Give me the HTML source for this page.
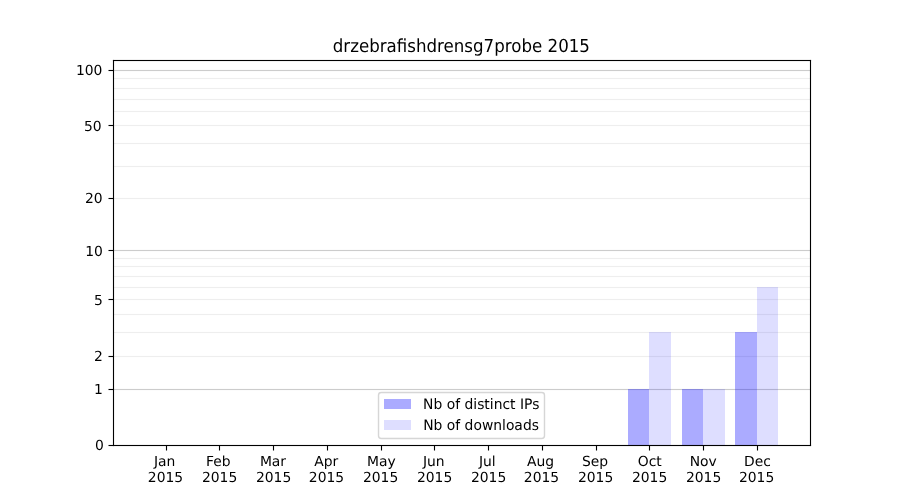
<!DOCTYPE html>
<html><head><meta charset="utf-8"><title>drzebrafishdrensg7probe 2015</title>
<style>html,body{margin:0;padding:0;background:#fff;}body{width:900px;height:500px;overflow:hidden;}svg{display:block;will-change:transform;}text{font-family:'DejaVu Sans', 'Liberation Sans', sans-serif;fill:#000;text-rendering:geometricPrecision;}</style>
</head><body>
<svg width="900" height="500" viewBox="0 0 900 500">
<rect x="0" y="0" width="900" height="500" fill="#ffffff"/>
<g shape-rendering="crispEdges">
<rect x="113" y="77" width="1" height="1" fill="#eeeeee" fill-opacity="0.056"/>
<rect x="113" y="78" width="1" height="1" fill="#eeeeee"/>
<rect x="113" y="79" width="1" height="1" fill="#eeeeee" fill-opacity="0.056"/>
<rect x="114" y="77" width="696" height="1" fill="#eeeeee" fill-opacity="0.056"/>
<rect x="114" y="78" width="696" height="1" fill="#eeeeee"/>
<rect x="114" y="79" width="696" height="1" fill="#eeeeee" fill-opacity="0.056"/>
<rect x="113" y="87" width="1" height="1" fill="#eeeeee" fill-opacity="0.056"/>
<rect x="113" y="88" width="1" height="1" fill="#eeeeee"/>
<rect x="113" y="89" width="1" height="1" fill="#eeeeee" fill-opacity="0.056"/>
<rect x="114" y="87" width="696" height="1" fill="#eeeeee" fill-opacity="0.056"/>
<rect x="114" y="88" width="696" height="1" fill="#eeeeee"/>
<rect x="114" y="89" width="696" height="1" fill="#eeeeee" fill-opacity="0.056"/>
<rect x="113" y="98" width="1" height="1" fill="#eeeeee" fill-opacity="0.056"/>
<rect x="113" y="99" width="1" height="1" fill="#eeeeee"/>
<rect x="113" y="100" width="1" height="1" fill="#eeeeee" fill-opacity="0.056"/>
<rect x="114" y="98" width="696" height="1" fill="#eeeeee" fill-opacity="0.056"/>
<rect x="114" y="99" width="696" height="1" fill="#eeeeee"/>
<rect x="114" y="100" width="696" height="1" fill="#eeeeee" fill-opacity="0.056"/>
<rect x="113" y="110" width="1" height="1" fill="#eeeeee" fill-opacity="0.056"/>
<rect x="113" y="111" width="1" height="1" fill="#eeeeee"/>
<rect x="113" y="112" width="1" height="1" fill="#eeeeee" fill-opacity="0.056"/>
<rect x="114" y="110" width="696" height="1" fill="#eeeeee" fill-opacity="0.056"/>
<rect x="114" y="111" width="696" height="1" fill="#eeeeee"/>
<rect x="114" y="112" width="696" height="1" fill="#eeeeee" fill-opacity="0.056"/>
<rect x="113" y="124" width="1" height="1" fill="#eeeeee" fill-opacity="0.056"/>
<rect x="113" y="125" width="1" height="1" fill="#eeeeee"/>
<rect x="113" y="126" width="1" height="1" fill="#eeeeee" fill-opacity="0.056"/>
<rect x="114" y="124" width="696" height="1" fill="#eeeeee" fill-opacity="0.056"/>
<rect x="114" y="125" width="696" height="1" fill="#eeeeee"/>
<rect x="114" y="126" width="696" height="1" fill="#eeeeee" fill-opacity="0.056"/>
<rect x="113" y="142" width="1" height="1" fill="#eeeeee" fill-opacity="0.056"/>
<rect x="113" y="143" width="1" height="1" fill="#eeeeee"/>
<rect x="113" y="144" width="1" height="1" fill="#eeeeee" fill-opacity="0.056"/>
<rect x="114" y="142" width="696" height="1" fill="#eeeeee" fill-opacity="0.056"/>
<rect x="114" y="143" width="696" height="1" fill="#eeeeee"/>
<rect x="114" y="144" width="696" height="1" fill="#eeeeee" fill-opacity="0.056"/>
<rect x="113" y="165" width="1" height="1" fill="#eeeeee" fill-opacity="0.056"/>
<rect x="113" y="166" width="1" height="1" fill="#eeeeee"/>
<rect x="113" y="167" width="1" height="1" fill="#eeeeee" fill-opacity="0.056"/>
<rect x="114" y="165" width="696" height="1" fill="#eeeeee" fill-opacity="0.056"/>
<rect x="114" y="166" width="696" height="1" fill="#eeeeee"/>
<rect x="114" y="167" width="696" height="1" fill="#eeeeee" fill-opacity="0.056"/>
<rect x="113" y="197" width="1" height="1" fill="#eeeeee" fill-opacity="0.056"/>
<rect x="113" y="198" width="1" height="1" fill="#eeeeee"/>
<rect x="113" y="199" width="1" height="1" fill="#eeeeee" fill-opacity="0.056"/>
<rect x="114" y="197" width="696" height="1" fill="#eeeeee" fill-opacity="0.056"/>
<rect x="114" y="198" width="696" height="1" fill="#eeeeee"/>
<rect x="114" y="199" width="696" height="1" fill="#eeeeee" fill-opacity="0.056"/>
<rect x="113" y="257" width="1" height="1" fill="#eeeeee" fill-opacity="0.056"/>
<rect x="113" y="258" width="1" height="1" fill="#eeeeee"/>
<rect x="113" y="259" width="1" height="1" fill="#eeeeee" fill-opacity="0.056"/>
<rect x="114" y="257" width="696" height="1" fill="#eeeeee" fill-opacity="0.056"/>
<rect x="114" y="258" width="696" height="1" fill="#eeeeee"/>
<rect x="114" y="259" width="696" height="1" fill="#eeeeee" fill-opacity="0.056"/>
<rect x="113" y="265" width="1" height="1" fill="#eeeeee" fill-opacity="0.056"/>
<rect x="113" y="266" width="1" height="1" fill="#eeeeee"/>
<rect x="113" y="267" width="1" height="1" fill="#eeeeee" fill-opacity="0.056"/>
<rect x="114" y="265" width="696" height="1" fill="#eeeeee" fill-opacity="0.056"/>
<rect x="114" y="266" width="696" height="1" fill="#eeeeee"/>
<rect x="114" y="267" width="696" height="1" fill="#eeeeee" fill-opacity="0.056"/>
<rect x="113" y="275" width="1" height="1" fill="#eeeeee" fill-opacity="0.056"/>
<rect x="113" y="276" width="1" height="1" fill="#eeeeee"/>
<rect x="113" y="277" width="1" height="1" fill="#eeeeee" fill-opacity="0.056"/>
<rect x="114" y="275" width="696" height="1" fill="#eeeeee" fill-opacity="0.056"/>
<rect x="114" y="276" width="696" height="1" fill="#eeeeee"/>
<rect x="114" y="277" width="696" height="1" fill="#eeeeee" fill-opacity="0.056"/>
<rect x="113" y="286" width="1" height="1" fill="#eeeeee" fill-opacity="0.056"/>
<rect x="113" y="287" width="1" height="1" fill="#eeeeee"/>
<rect x="113" y="288" width="1" height="1" fill="#eeeeee" fill-opacity="0.056"/>
<rect x="114" y="286" width="696" height="1" fill="#eeeeee" fill-opacity="0.056"/>
<rect x="114" y="287" width="696" height="1" fill="#eeeeee"/>
<rect x="114" y="288" width="696" height="1" fill="#eeeeee" fill-opacity="0.056"/>
<rect x="113" y="298" width="1" height="1" fill="#eeeeee" fill-opacity="0.056"/>
<rect x="113" y="299" width="1" height="1" fill="#eeeeee"/>
<rect x="113" y="300" width="1" height="1" fill="#eeeeee" fill-opacity="0.056"/>
<rect x="114" y="298" width="696" height="1" fill="#eeeeee" fill-opacity="0.056"/>
<rect x="114" y="299" width="696" height="1" fill="#eeeeee"/>
<rect x="114" y="300" width="696" height="1" fill="#eeeeee" fill-opacity="0.056"/>
<rect x="113" y="313" width="1" height="1" fill="#eeeeee" fill-opacity="0.056"/>
<rect x="113" y="314" width="1" height="1" fill="#eeeeee"/>
<rect x="113" y="315" width="1" height="1" fill="#eeeeee" fill-opacity="0.056"/>
<rect x="114" y="313" width="696" height="1" fill="#eeeeee" fill-opacity="0.056"/>
<rect x="114" y="314" width="696" height="1" fill="#eeeeee"/>
<rect x="114" y="315" width="696" height="1" fill="#eeeeee" fill-opacity="0.056"/>
<rect x="113" y="331" width="1" height="1" fill="#eeeeee" fill-opacity="0.056"/>
<rect x="113" y="332" width="1" height="1" fill="#eeeeee"/>
<rect x="113" y="333" width="1" height="1" fill="#eeeeee" fill-opacity="0.056"/>
<rect x="114" y="331" width="696" height="1" fill="#eeeeee" fill-opacity="0.056"/>
<rect x="114" y="332" width="696" height="1" fill="#eeeeee"/>
<rect x="114" y="333" width="696" height="1" fill="#eeeeee" fill-opacity="0.056"/>
<rect x="113" y="355" width="1" height="1" fill="#eeeeee" fill-opacity="0.056"/>
<rect x="113" y="356" width="1" height="1" fill="#eeeeee"/>
<rect x="113" y="357" width="1" height="1" fill="#eeeeee" fill-opacity="0.056"/>
<rect x="114" y="355" width="696" height="1" fill="#eeeeee" fill-opacity="0.056"/>
<rect x="114" y="356" width="696" height="1" fill="#eeeeee"/>
<rect x="114" y="357" width="696" height="1" fill="#eeeeee" fill-opacity="0.056"/>
<rect x="113" y="69" width="1" height="1" fill="#cccccc" fill-opacity="0.056"/>
<rect x="113" y="70" width="1" height="1" fill="#cccccc"/>
<rect x="113" y="71" width="1" height="1" fill="#cccccc" fill-opacity="0.056"/>
<rect x="114" y="69" width="696" height="1" fill="#cccccc" fill-opacity="0.056"/>
<rect x="114" y="70" width="696" height="1" fill="#cccccc"/>
<rect x="114" y="71" width="696" height="1" fill="#cccccc" fill-opacity="0.056"/>
<rect x="113" y="249" width="1" height="1" fill="#cccccc" fill-opacity="0.056"/>
<rect x="113" y="250" width="1" height="1" fill="#cccccc"/>
<rect x="113" y="251" width="1" height="1" fill="#cccccc" fill-opacity="0.056"/>
<rect x="114" y="249" width="696" height="1" fill="#cccccc" fill-opacity="0.056"/>
<rect x="114" y="250" width="696" height="1" fill="#cccccc"/>
<rect x="114" y="251" width="696" height="1" fill="#cccccc" fill-opacity="0.056"/>
<rect x="113" y="388" width="1" height="1" fill="#cccccc" fill-opacity="0.056"/>
<rect x="113" y="389" width="1" height="1" fill="#cccccc"/>
<rect x="113" y="390" width="1" height="1" fill="#cccccc" fill-opacity="0.056"/>
<rect x="114" y="388" width="696" height="1" fill="#cccccc" fill-opacity="0.056"/>
<rect x="114" y="389" width="696" height="1" fill="#cccccc"/>
<rect x="114" y="390" width="696" height="1" fill="#cccccc" fill-opacity="0.056"/>
<rect x="628" y="389" width="21" height="56" fill="#0000ff" fill-opacity="0.33"/>
<rect x="649" y="332" width="22" height="113" fill="#0000ff" fill-opacity="0.13"/>
<rect x="682" y="389" width="21" height="56" fill="#0000ff" fill-opacity="0.33"/>
<rect x="703" y="389" width="22" height="56" fill="#0000ff" fill-opacity="0.13"/>
<rect x="735" y="332" width="22" height="113" fill="#0000ff" fill-opacity="0.33"/>
<rect x="757" y="287" width="21" height="158" fill="#0000ff" fill-opacity="0.13"/>
<rect x="165" y="445" width="1" height="1" fill="#000" fill-opacity="0.028"/>
<rect x="165" y="446" width="1" height="4" fill="#000" fill-opacity="0.056"/>
<rect x="165" y="450" width="1" height="1" fill="#000" fill-opacity="0.028"/>
<rect x="166" y="445" width="1" height="1" fill="#000" fill-opacity="0.500"/>
<rect x="166" y="446" width="1" height="4" fill="#000"/>
<rect x="166" y="450" width="1" height="1" fill="#000" fill-opacity="0.500"/>
<rect x="167" y="445" width="1" height="1" fill="#000" fill-opacity="0.028"/>
<rect x="167" y="446" width="1" height="4" fill="#000" fill-opacity="0.056"/>
<rect x="167" y="450" width="1" height="1" fill="#000" fill-opacity="0.028"/>
<rect x="218" y="445" width="1" height="1" fill="#000" fill-opacity="0.028"/>
<rect x="218" y="446" width="1" height="4" fill="#000" fill-opacity="0.056"/>
<rect x="218" y="450" width="1" height="1" fill="#000" fill-opacity="0.028"/>
<rect x="219" y="445" width="1" height="1" fill="#000" fill-opacity="0.500"/>
<rect x="219" y="446" width="1" height="4" fill="#000"/>
<rect x="219" y="450" width="1" height="1" fill="#000" fill-opacity="0.500"/>
<rect x="220" y="445" width="1" height="1" fill="#000" fill-opacity="0.028"/>
<rect x="220" y="446" width="1" height="4" fill="#000" fill-opacity="0.056"/>
<rect x="220" y="450" width="1" height="1" fill="#000" fill-opacity="0.028"/>
<rect x="272" y="445" width="1" height="1" fill="#000" fill-opacity="0.028"/>
<rect x="272" y="446" width="1" height="4" fill="#000" fill-opacity="0.056"/>
<rect x="272" y="450" width="1" height="1" fill="#000" fill-opacity="0.028"/>
<rect x="273" y="445" width="1" height="1" fill="#000" fill-opacity="0.500"/>
<rect x="273" y="446" width="1" height="4" fill="#000"/>
<rect x="273" y="450" width="1" height="1" fill="#000" fill-opacity="0.500"/>
<rect x="274" y="445" width="1" height="1" fill="#000" fill-opacity="0.028"/>
<rect x="274" y="446" width="1" height="4" fill="#000" fill-opacity="0.056"/>
<rect x="274" y="450" width="1" height="1" fill="#000" fill-opacity="0.028"/>
<rect x="326" y="445" width="1" height="1" fill="#000" fill-opacity="0.028"/>
<rect x="326" y="446" width="1" height="4" fill="#000" fill-opacity="0.056"/>
<rect x="326" y="450" width="1" height="1" fill="#000" fill-opacity="0.028"/>
<rect x="327" y="445" width="1" height="1" fill="#000" fill-opacity="0.500"/>
<rect x="327" y="446" width="1" height="4" fill="#000"/>
<rect x="327" y="450" width="1" height="1" fill="#000" fill-opacity="0.500"/>
<rect x="328" y="445" width="1" height="1" fill="#000" fill-opacity="0.028"/>
<rect x="328" y="446" width="1" height="4" fill="#000" fill-opacity="0.056"/>
<rect x="328" y="450" width="1" height="1" fill="#000" fill-opacity="0.028"/>
<rect x="380" y="445" width="1" height="1" fill="#000" fill-opacity="0.028"/>
<rect x="380" y="446" width="1" height="4" fill="#000" fill-opacity="0.056"/>
<rect x="380" y="450" width="1" height="1" fill="#000" fill-opacity="0.028"/>
<rect x="381" y="445" width="1" height="1" fill="#000" fill-opacity="0.500"/>
<rect x="381" y="446" width="1" height="4" fill="#000"/>
<rect x="381" y="450" width="1" height="1" fill="#000" fill-opacity="0.500"/>
<rect x="382" y="445" width="1" height="1" fill="#000" fill-opacity="0.028"/>
<rect x="382" y="446" width="1" height="4" fill="#000" fill-opacity="0.056"/>
<rect x="382" y="450" width="1" height="1" fill="#000" fill-opacity="0.028"/>
<rect x="433" y="445" width="1" height="1" fill="#000" fill-opacity="0.028"/>
<rect x="433" y="446" width="1" height="4" fill="#000" fill-opacity="0.056"/>
<rect x="433" y="450" width="1" height="1" fill="#000" fill-opacity="0.028"/>
<rect x="434" y="445" width="1" height="1" fill="#000" fill-opacity="0.500"/>
<rect x="434" y="446" width="1" height="4" fill="#000"/>
<rect x="434" y="450" width="1" height="1" fill="#000" fill-opacity="0.500"/>
<rect x="435" y="445" width="1" height="1" fill="#000" fill-opacity="0.028"/>
<rect x="435" y="446" width="1" height="4" fill="#000" fill-opacity="0.056"/>
<rect x="435" y="450" width="1" height="1" fill="#000" fill-opacity="0.028"/>
<rect x="487" y="445" width="1" height="1" fill="#000" fill-opacity="0.028"/>
<rect x="487" y="446" width="1" height="4" fill="#000" fill-opacity="0.056"/>
<rect x="487" y="450" width="1" height="1" fill="#000" fill-opacity="0.028"/>
<rect x="488" y="445" width="1" height="1" fill="#000" fill-opacity="0.500"/>
<rect x="488" y="446" width="1" height="4" fill="#000"/>
<rect x="488" y="450" width="1" height="1" fill="#000" fill-opacity="0.500"/>
<rect x="489" y="445" width="1" height="1" fill="#000" fill-opacity="0.028"/>
<rect x="489" y="446" width="1" height="4" fill="#000" fill-opacity="0.056"/>
<rect x="489" y="450" width="1" height="1" fill="#000" fill-opacity="0.028"/>
<rect x="541" y="445" width="1" height="1" fill="#000" fill-opacity="0.028"/>
<rect x="541" y="446" width="1" height="4" fill="#000" fill-opacity="0.056"/>
<rect x="541" y="450" width="1" height="1" fill="#000" fill-opacity="0.028"/>
<rect x="542" y="445" width="1" height="1" fill="#000" fill-opacity="0.500"/>
<rect x="542" y="446" width="1" height="4" fill="#000"/>
<rect x="542" y="450" width="1" height="1" fill="#000" fill-opacity="0.500"/>
<rect x="543" y="445" width="1" height="1" fill="#000" fill-opacity="0.028"/>
<rect x="543" y="446" width="1" height="4" fill="#000" fill-opacity="0.056"/>
<rect x="543" y="450" width="1" height="1" fill="#000" fill-opacity="0.028"/>
<rect x="595" y="445" width="1" height="1" fill="#000" fill-opacity="0.028"/>
<rect x="595" y="446" width="1" height="4" fill="#000" fill-opacity="0.056"/>
<rect x="595" y="450" width="1" height="1" fill="#000" fill-opacity="0.028"/>
<rect x="596" y="445" width="1" height="1" fill="#000" fill-opacity="0.500"/>
<rect x="596" y="446" width="1" height="4" fill="#000"/>
<rect x="596" y="450" width="1" height="1" fill="#000" fill-opacity="0.500"/>
<rect x="597" y="445" width="1" height="1" fill="#000" fill-opacity="0.028"/>
<rect x="597" y="446" width="1" height="4" fill="#000" fill-opacity="0.056"/>
<rect x="597" y="450" width="1" height="1" fill="#000" fill-opacity="0.028"/>
<rect x="648" y="445" width="1" height="1" fill="#000" fill-opacity="0.028"/>
<rect x="648" y="446" width="1" height="4" fill="#000" fill-opacity="0.056"/>
<rect x="648" y="450" width="1" height="1" fill="#000" fill-opacity="0.028"/>
<rect x="649" y="445" width="1" height="1" fill="#000" fill-opacity="0.500"/>
<rect x="649" y="446" width="1" height="4" fill="#000"/>
<rect x="649" y="450" width="1" height="1" fill="#000" fill-opacity="0.500"/>
<rect x="650" y="445" width="1" height="1" fill="#000" fill-opacity="0.028"/>
<rect x="650" y="446" width="1" height="4" fill="#000" fill-opacity="0.056"/>
<rect x="650" y="450" width="1" height="1" fill="#000" fill-opacity="0.028"/>
<rect x="702" y="445" width="1" height="1" fill="#000" fill-opacity="0.028"/>
<rect x="702" y="446" width="1" height="4" fill="#000" fill-opacity="0.056"/>
<rect x="702" y="450" width="1" height="1" fill="#000" fill-opacity="0.028"/>
<rect x="703" y="445" width="1" height="1" fill="#000" fill-opacity="0.500"/>
<rect x="703" y="446" width="1" height="4" fill="#000"/>
<rect x="703" y="450" width="1" height="1" fill="#000" fill-opacity="0.500"/>
<rect x="704" y="445" width="1" height="1" fill="#000" fill-opacity="0.028"/>
<rect x="704" y="446" width="1" height="4" fill="#000" fill-opacity="0.056"/>
<rect x="704" y="450" width="1" height="1" fill="#000" fill-opacity="0.028"/>
<rect x="756" y="445" width="1" height="1" fill="#000" fill-opacity="0.028"/>
<rect x="756" y="446" width="1" height="4" fill="#000" fill-opacity="0.056"/>
<rect x="756" y="450" width="1" height="1" fill="#000" fill-opacity="0.028"/>
<rect x="757" y="445" width="1" height="1" fill="#000" fill-opacity="0.500"/>
<rect x="757" y="446" width="1" height="4" fill="#000"/>
<rect x="757" y="450" width="1" height="1" fill="#000" fill-opacity="0.500"/>
<rect x="758" y="445" width="1" height="1" fill="#000" fill-opacity="0.028"/>
<rect x="758" y="446" width="1" height="4" fill="#000" fill-opacity="0.056"/>
<rect x="758" y="450" width="1" height="1" fill="#000" fill-opacity="0.028"/>
<rect x="108" y="444" width="1" height="1" fill="#000" fill-opacity="0.028"/>
<rect x="108" y="445" width="1" height="1" fill="#000" fill-opacity="0.500"/>
<rect x="108" y="446" width="1" height="1" fill="#000" fill-opacity="0.028"/>
<rect x="109" y="444" width="4" height="1" fill="#000" fill-opacity="0.056"/>
<rect x="109" y="445" width="4" height="1" fill="#000"/>
<rect x="109" y="446" width="4" height="1" fill="#000" fill-opacity="0.056"/>
<rect x="113" y="444" width="1" height="1" fill="#000" fill-opacity="0.028"/>
<rect x="113" y="445" width="1" height="1" fill="#000" fill-opacity="0.500"/>
<rect x="113" y="446" width="1" height="1" fill="#000" fill-opacity="0.028"/>
<rect x="108" y="388" width="1" height="1" fill="#000" fill-opacity="0.028"/>
<rect x="108" y="389" width="1" height="1" fill="#000" fill-opacity="0.500"/>
<rect x="108" y="390" width="1" height="1" fill="#000" fill-opacity="0.028"/>
<rect x="109" y="388" width="4" height="1" fill="#000" fill-opacity="0.056"/>
<rect x="109" y="389" width="4" height="1" fill="#000"/>
<rect x="109" y="390" width="4" height="1" fill="#000" fill-opacity="0.056"/>
<rect x="113" y="388" width="1" height="1" fill="#000" fill-opacity="0.028"/>
<rect x="113" y="389" width="1" height="1" fill="#000" fill-opacity="0.500"/>
<rect x="113" y="390" width="1" height="1" fill="#000" fill-opacity="0.028"/>
<rect x="108" y="355" width="1" height="1" fill="#000" fill-opacity="0.028"/>
<rect x="108" y="356" width="1" height="1" fill="#000" fill-opacity="0.500"/>
<rect x="108" y="357" width="1" height="1" fill="#000" fill-opacity="0.028"/>
<rect x="109" y="355" width="4" height="1" fill="#000" fill-opacity="0.056"/>
<rect x="109" y="356" width="4" height="1" fill="#000"/>
<rect x="109" y="357" width="4" height="1" fill="#000" fill-opacity="0.056"/>
<rect x="113" y="355" width="1" height="1" fill="#000" fill-opacity="0.028"/>
<rect x="113" y="356" width="1" height="1" fill="#000" fill-opacity="0.500"/>
<rect x="113" y="357" width="1" height="1" fill="#000" fill-opacity="0.028"/>
<rect x="108" y="298" width="1" height="1" fill="#000" fill-opacity="0.028"/>
<rect x="108" y="299" width="1" height="1" fill="#000" fill-opacity="0.500"/>
<rect x="108" y="300" width="1" height="1" fill="#000" fill-opacity="0.028"/>
<rect x="109" y="298" width="4" height="1" fill="#000" fill-opacity="0.056"/>
<rect x="109" y="299" width="4" height="1" fill="#000"/>
<rect x="109" y="300" width="4" height="1" fill="#000" fill-opacity="0.056"/>
<rect x="113" y="298" width="1" height="1" fill="#000" fill-opacity="0.028"/>
<rect x="113" y="299" width="1" height="1" fill="#000" fill-opacity="0.500"/>
<rect x="113" y="300" width="1" height="1" fill="#000" fill-opacity="0.028"/>
<rect x="108" y="249" width="1" height="1" fill="#000" fill-opacity="0.028"/>
<rect x="108" y="250" width="1" height="1" fill="#000" fill-opacity="0.500"/>
<rect x="108" y="251" width="1" height="1" fill="#000" fill-opacity="0.028"/>
<rect x="109" y="249" width="4" height="1" fill="#000" fill-opacity="0.056"/>
<rect x="109" y="250" width="4" height="1" fill="#000"/>
<rect x="109" y="251" width="4" height="1" fill="#000" fill-opacity="0.056"/>
<rect x="113" y="249" width="1" height="1" fill="#000" fill-opacity="0.028"/>
<rect x="113" y="250" width="1" height="1" fill="#000" fill-opacity="0.500"/>
<rect x="113" y="251" width="1" height="1" fill="#000" fill-opacity="0.028"/>
<rect x="108" y="197" width="1" height="1" fill="#000" fill-opacity="0.028"/>
<rect x="108" y="198" width="1" height="1" fill="#000" fill-opacity="0.500"/>
<rect x="108" y="199" width="1" height="1" fill="#000" fill-opacity="0.028"/>
<rect x="109" y="197" width="4" height="1" fill="#000" fill-opacity="0.056"/>
<rect x="109" y="198" width="4" height="1" fill="#000"/>
<rect x="109" y="199" width="4" height="1" fill="#000" fill-opacity="0.056"/>
<rect x="113" y="197" width="1" height="1" fill="#000" fill-opacity="0.028"/>
<rect x="113" y="198" width="1" height="1" fill="#000" fill-opacity="0.500"/>
<rect x="113" y="199" width="1" height="1" fill="#000" fill-opacity="0.028"/>
<rect x="108" y="124" width="1" height="1" fill="#000" fill-opacity="0.028"/>
<rect x="108" y="125" width="1" height="1" fill="#000" fill-opacity="0.500"/>
<rect x="108" y="126" width="1" height="1" fill="#000" fill-opacity="0.028"/>
<rect x="109" y="124" width="4" height="1" fill="#000" fill-opacity="0.056"/>
<rect x="109" y="125" width="4" height="1" fill="#000"/>
<rect x="109" y="126" width="4" height="1" fill="#000" fill-opacity="0.056"/>
<rect x="113" y="124" width="1" height="1" fill="#000" fill-opacity="0.028"/>
<rect x="113" y="125" width="1" height="1" fill="#000" fill-opacity="0.500"/>
<rect x="113" y="126" width="1" height="1" fill="#000" fill-opacity="0.028"/>
<rect x="108" y="69" width="1" height="1" fill="#000" fill-opacity="0.028"/>
<rect x="108" y="70" width="1" height="1" fill="#000" fill-opacity="0.500"/>
<rect x="108" y="71" width="1" height="1" fill="#000" fill-opacity="0.028"/>
<rect x="109" y="69" width="4" height="1" fill="#000" fill-opacity="0.056"/>
<rect x="109" y="70" width="4" height="1" fill="#000"/>
<rect x="109" y="71" width="4" height="1" fill="#000" fill-opacity="0.056"/>
<rect x="113" y="69" width="1" height="1" fill="#000" fill-opacity="0.028"/>
<rect x="113" y="70" width="1" height="1" fill="#000" fill-opacity="0.500"/>
<rect x="113" y="71" width="1" height="1" fill="#000" fill-opacity="0.028"/>
<rect x="112" y="59" width="1" height="1" fill="#000" fill-opacity="0.003"/>
<rect x="112" y="60" width="1" height="386" fill="#000" fill-opacity="0.056"/>
<rect x="112" y="446" width="1" height="1" fill="#000" fill-opacity="0.003"/>
<rect x="113" y="59" width="1" height="1" fill="#000" fill-opacity="0.056"/>
<rect x="113" y="60" width="1" height="386" fill="#000"/>
<rect x="113" y="446" width="1" height="1" fill="#000" fill-opacity="0.056"/>
<rect x="114" y="59" width="1" height="1" fill="#000" fill-opacity="0.003"/>
<rect x="114" y="60" width="1" height="386" fill="#000" fill-opacity="0.056"/>
<rect x="114" y="446" width="1" height="1" fill="#000" fill-opacity="0.003"/>
<rect x="809" y="59" width="1" height="1" fill="#000" fill-opacity="0.003"/>
<rect x="809" y="60" width="1" height="386" fill="#000" fill-opacity="0.056"/>
<rect x="809" y="446" width="1" height="1" fill="#000" fill-opacity="0.003"/>
<rect x="810" y="59" width="1" height="1" fill="#000" fill-opacity="0.056"/>
<rect x="810" y="60" width="1" height="386" fill="#000"/>
<rect x="810" y="446" width="1" height="1" fill="#000" fill-opacity="0.056"/>
<rect x="811" y="59" width="1" height="1" fill="#000" fill-opacity="0.003"/>
<rect x="811" y="60" width="1" height="386" fill="#000" fill-opacity="0.056"/>
<rect x="811" y="446" width="1" height="1" fill="#000" fill-opacity="0.003"/>
<rect x="112" y="59" width="1" height="1" fill="#000" fill-opacity="0.003"/>
<rect x="112" y="60" width="1" height="1" fill="#000" fill-opacity="0.056"/>
<rect x="112" y="61" width="1" height="1" fill="#000" fill-opacity="0.003"/>
<rect x="113" y="59" width="698" height="1" fill="#000" fill-opacity="0.056"/>
<rect x="113" y="60" width="698" height="1" fill="#000"/>
<rect x="113" y="61" width="698" height="1" fill="#000" fill-opacity="0.056"/>
<rect x="811" y="59" width="1" height="1" fill="#000" fill-opacity="0.003"/>
<rect x="811" y="60" width="1" height="1" fill="#000" fill-opacity="0.056"/>
<rect x="811" y="61" width="1" height="1" fill="#000" fill-opacity="0.003"/>
<rect x="112" y="444" width="1" height="1" fill="#000" fill-opacity="0.003"/>
<rect x="112" y="445" width="1" height="1" fill="#000" fill-opacity="0.056"/>
<rect x="112" y="446" width="1" height="1" fill="#000" fill-opacity="0.003"/>
<rect x="113" y="444" width="698" height="1" fill="#000" fill-opacity="0.056"/>
<rect x="113" y="445" width="698" height="1" fill="#000"/>
<rect x="113" y="446" width="698" height="1" fill="#000" fill-opacity="0.056"/>
<rect x="811" y="444" width="1" height="1" fill="#000" fill-opacity="0.003"/>
<rect x="811" y="445" width="1" height="1" fill="#000" fill-opacity="0.056"/>
<rect x="811" y="446" width="1" height="1" fill="#000" fill-opacity="0.003"/>
</g>
<g font-size="13.8889px">
<text x="153.965" y="465.602">Jan</text>
<text x="147.860" y="481.543">2015</text>
<text x="205.947" y="465.620">Feb</text>
<text x="201.930" y="481.545">2015</text>
<text x="259.878" y="465.578">Mar</text>
<text x="255.978" y="481.545">2015</text>
<text x="314.222" y="465.532">Apr</text>
<text x="308.861" y="481.542">2015</text>
<text x="366.971" y="465.612">May</text>
<text x="362.980" y="481.543">2015</text>
<text x="422.956" y="465.538">Jun</text>
<text x="416.913" y="481.546">2015</text>
<text x="478.997" y="465.538">Jul</text>
<text x="470.957" y="481.546">2015</text>
<text x="526.906" y="465.613">Aug</text>
<text x="523.860" y="481.541">2015</text>
<text x="581.977" y="465.536">Sep</text>
<text x="577.926" y="481.543">2015</text>
<text x="637.728" y="465.564">Oct</text>
<text x="631.920" y="481.543">2015</text>
<text x="689.687" y="465.541">Nov</text>
<text x="685.944" y="481.544">2015</text>
<text x="743.955" y="465.538">Dec</text>
<text x="738.976" y="481.544">2015</text>
<text x="103.814" y="449.568" text-anchor="end">0</text>
<text x="102.785" y="393.543" text-anchor="end">1</text>
<text x="102.772" y="360.541" text-anchor="end">2</text>
<text x="102.790" y="304.515" text-anchor="end">5</text>
<text x="102.800" y="255.510" text-anchor="end">10</text>
<text x="102.545" y="202.582" text-anchor="end">20</text>
<text x="101.649" y="130.552" text-anchor="end">50</text>
<text x="102.439" y="74.539" text-anchor="end">100</text>
</g>
<text transform="translate(461.354 51.595) scale(1 1.080)" font-size="16.6667px" text-anchor="middle">drzebrafishdrensg7probe 2015</text>
<rect x="378.5" y="392.5" width="166.0" height="46.0" rx="2.778" ry="2.778" fill="#ffffff" stroke="#cccccc" stroke-width="1.3889" opacity="0.8"/>
<rect x="384" y="399" width="27" height="10" fill="#0000ff" fill-opacity="0.33"/>
<rect x="384" y="420" width="27" height="10" fill="#0000ff" fill-opacity="0.13"/>
<g font-size="13.8889px">
<text transform="translate(423.093 408.623) scale(1 1.040)">Nb of distinct IPs</text>
<text transform="translate(423.210 429.593) scale(1 1.040)">Nb of downloads</text>
</g>
</svg>
</body></html>
